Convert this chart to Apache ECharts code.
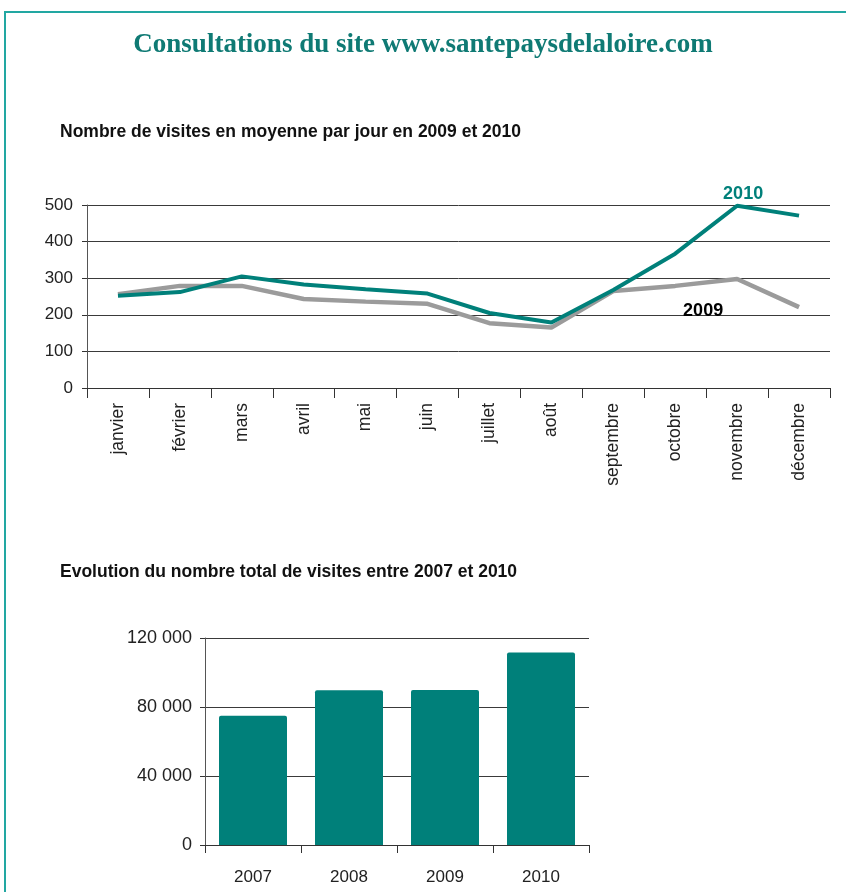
<!DOCTYPE html>
<html><head><meta charset="utf-8">
<script src="https://cdn.jsdelivr.net/npm/echarts@6/dist/echarts.min.js"></script>
<style>html,body{margin:0;padding:0;background:#fff}#c{width:846px;height:892px}</style>
</head><body><div id="c"></div>
<script>
const months = ['janvier','février','mars','avril','mai','juin','juillet','août','septembre','octobre','novembre','décembre'];
const visits2010 = [252, 262, 305, 283, 270, 258, 205, 179, 268, 367, 498, 471];
const visits2009 = [256, 279, 279, 243, 236, 230, 177, 165, 265, 279, 298, 221];
const years = ['2007','2008','2009','2010'];
const totals = [75000, 89700, 89900, 111600];
const lineTicks = [0, 100, 200, 300, 400, 500];
const barTicks = [0, 40000, 80000, 120000];

const TEAL = '#00807a';
const GRAY = '#9b9b9b';
const NARROW = '"Liberation Sans Narrow", "Liberation Sans", Arial, sans-serif';
const SANS = '"Liberation Sans", Arial, sans-serif';
const chart = echarts.init(document.getElementById('c'), null, {renderer: 'canvas'});
const fmt = v => String(v).replace(/\B(?=(\d{3})+(?!\d))/g, ' ');

chart.setOption({
  animation: false,
  backgroundColor: '#fff',
  graphic: [
    {type: 'polyline', shape: {points: [[5, 900], [5, 12], [860, 12]]}, style: {stroke: '#22a7a2', lineWidth: 2, fill: null}}
  ],
  title: [
    {text: 'Consultations du site www.santepaysdelaloire.com', left: 'center', top: 27,
     textStyle: {fontFamily: '"Liberation Serif", "Times New Roman", serif', fontWeight: 'bold', fontSize: 27, color: '#0f7a74'}},
    {text: 'Nombre de visites en moyenne par jour en 2009 et 2010', left: 55, top: 118,
     textStyle: {fontFamily: NARROW, fontWeight: 'bold', fontSize: 17.5, color: '#111'}},
    {text: 'Evolution du nombre total de visites entre 2007 et 2010', left: 55, top: 558,
     textStyle: {fontFamily: NARROW, fontWeight: 'bold', fontSize: 17.5, color: '#111'}}
  ],
  grid: [
    {left: 87, top: 205, width: 743, height: 183},
    {left: 205, top: 638, width: 384, height: 207}
  ],
  xAxis: [
    {type: 'category', gridIndex: 0, data: months, boundaryGap: true,
     axisLine: {lineStyle: {color: '#333', width: 1}},
     axisTick: {show: true, length: 10, lineStyle: {color: '#333'}},
     axisLabel: {rotate: 90, fontSize: 17.5, color: '#222', margin: 15, fontFamily: SANS, interval: 0}},
    {type: 'category', gridIndex: 1, data: years, boundaryGap: true,
     axisLine: {lineStyle: {color: '#333', width: 1}},
     axisTick: {show: true, length: 8, lineStyle: {color: '#333'}},
     axisLabel: {fontSize: 17, color: '#222', margin: 24, fontFamily: NARROW}}
  ],
  yAxis: [
    {type: 'value', gridIndex: 0, min: lineTicks[0], max: lineTicks[lineTicks.length - 1], interval: 100,
     axisLine: {show: true, lineStyle: {color: '#555'}},
     axisTick: {show: true, length: 5, lineStyle: {color: '#333'}},
     splitLine: {lineStyle: {color: '#3a3a3a', width: 1}},
     axisLabel: {fontSize: 17, color: '#222', margin: 14, fontFamily: NARROW}},
    {type: 'value', gridIndex: 1, min: barTicks[0], max: barTicks[barTicks.length - 1], interval: 40000,
     axisLine: {show: true, lineStyle: {color: '#555'}},
     axisTick: {show: true, length: 5, lineStyle: {color: '#333'}},
     splitLine: {lineStyle: {color: '#3a3a3a', width: 1}},
     axisLabel: {fontSize: 18, color: '#222', margin: 13, fontFamily: NARROW, formatter: fmt}}
  ],
  series: [
    {name: '2009', type: 'line', xAxisIndex: 0, yAxisIndex: 0, z: 2,
     data: visits2009.map((v, i) => i === 10 ? {value: v, label: {show: true, formatter: '2009', position: 'bottom', offset: [-34, 18]}} : v),
     showSymbol: true, symbolSize: 0, symbol: 'circle',
     lineStyle: {color: GRAY, width: 4.5}, itemStyle: {color: GRAY},
     label: {show: false, fontWeight: 'bold', fontSize: 18, color: '#000', fontFamily: SANS}},
    {name: '2010', type: 'line', xAxisIndex: 0, yAxisIndex: 0, z: 3,
     data: visits2010.map((v, i) => i === 10 ? {value: v, label: {show: true, formatter: '2010', position: 'top', offset: [6, 2]}} : v),
     showSymbol: true, symbolSize: 0, symbol: 'circle',
     lineStyle: {color: TEAL, width: 4}, itemStyle: {color: TEAL},
     label: {show: false, fontWeight: 'bold', fontSize: 18, color: TEAL, fontFamily: SANS}},
    {name: 'total', type: 'bar', xAxisIndex: 1, yAxisIndex: 1, data: totals,
     barWidth: 68, itemStyle: {color: TEAL, borderRadius: [2, 2, 0, 0]}}
  ]
});
</script></body></html>
